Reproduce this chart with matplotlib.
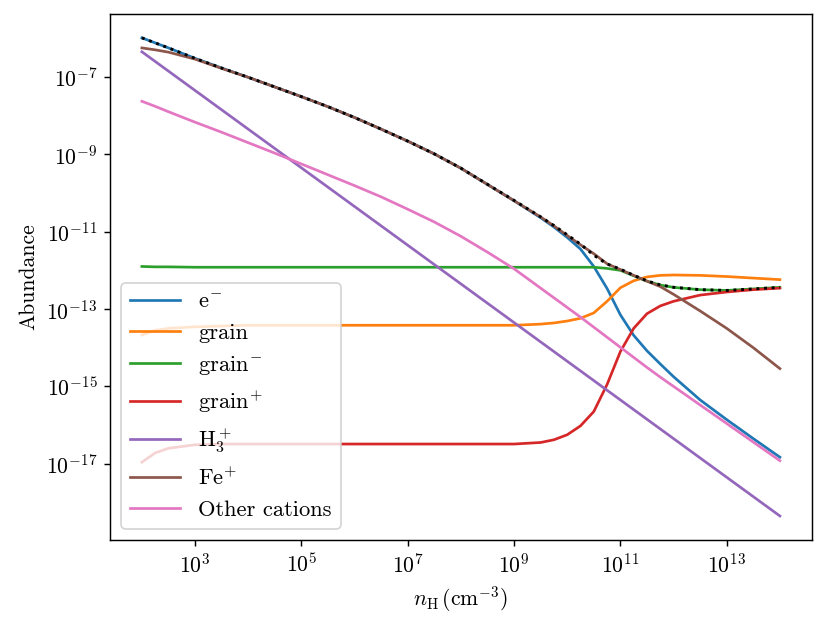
import numpy as np
import matplotlib
matplotlib.use("Agg")
import matplotlib.pyplot as plt

plt.rcParams["font.family"] = "serif"
plt.rcParams["font.serif"] = ["cmr10", "DejaVu Serif"]
plt.rcParams["mathtext.fontset"] = "cm"
plt.rcParams["axes.unicode_minus"] = False
plt.rcParams["axes.formatter.use_mathtext"] = True
plt.rcParams["font.size"] = 12

# log10 of n_H (cm^-3)
log_nH = [2, 2.25, 2.5, 3, 3.5, 4, 4.5, 5, 5.5, 6, 6.5, 7, 7.5, 8, 8.5, 9, 9.5,
          9.75, 10, 10.25, 10.5, 10.75, 11, 11.25, 11.5, 11.75, 12, 12.5, 13,
          13.5, 14]

# log10 abundances
log_e = [-5.99, -6.12, -6.25, -6.52, -6.77, -7.01, -7.26, -7.51, -7.77, -8.05,
         -8.35, -8.66, -8.99, -9.36, -9.78, -10.2, -10.64, -10.88, -11.15,
         -11.45, -11.9, -12.47, -13.15, -13.68, -14.08, -14.42, -14.75, -15.35,
         -15.86, -16.35, -16.83]
log_grain = [-13.67, -13.55, -13.5, -13.46, -13.44, -13.42, -13.42, -13.42,
             -13.42, -13.42, -13.42, -13.42, -13.42, -13.42, -13.42, -13.42,
             -13.39, -13.36, -13.31, -13.24, -13.1, -12.8, -12.45, -12.27,
             -12.17, -12.13, -12.12, -12.13, -12.16, -12.2, -12.24]
log_grain_m = [-11.9, -11.91, -11.91, -11.92, -11.92, -11.92, -11.92, -11.92,
               -11.92, -11.92, -11.92, -11.92, -11.92, -11.92, -11.92, -11.92,
               -11.92, -11.92, -11.92, -11.92, -11.92, -11.95, -12.0, -12.14,
               -12.28, -12.38, -12.44, -12.5, -12.52, -12.48, -12.44]
log_grain_p = [-16.96, -16.72, -16.6, -16.51, -16.49, -16.49, -16.49, -16.49,
               -16.49, -16.49, -16.49, -16.49, -16.49, -16.49, -16.49, -16.49,
               -16.45, -16.38, -16.25, -16.02, -15.65, -14.95, -14.1, -13.5,
               -13.12, -12.92, -12.8, -12.64, -12.56, -12.5, -12.46]
log_h3p = [-6.35, -6.6, -6.85, -7.35, -7.85, -8.35, -8.85, -9.35, -9.85,
           -10.35, -10.85, -11.35, -11.85, -12.35, -12.85, -13.35, -13.85,
           -14.1, -14.35, -14.6, -14.85, -15.1, -15.35, -15.6, -15.85, -16.1,
           -16.35, -16.85, -17.35, -17.85, -18.35]
log_fep = [-6.25, -6.3, -6.36, -6.54, -6.78, -7.01, -7.26, -7.51, -7.77, -8.05,
           -8.35, -8.66, -8.99, -9.36, -9.78, -10.2, -10.62, -10.85, -11.1,
           -11.34, -11.57, -11.83, -11.98, -12.13, -12.28, -12.42, -12.62,
           -13.05, -13.5, -14.0, -14.54]
log_other = [-7.63, -7.76, -7.9, -8.17, -8.43, -8.7, -8.97, -9.25, -9.53,
             -9.81, -10.1, -10.42, -10.75, -11.12, -11.53, -11.96, -12.46,
             -12.71, -12.96, -13.21, -13.47, -13.73, -13.99, -14.25, -14.51,
             -14.76, -15.0, -15.48, -15.96, -16.44, -16.92]

nH = 10 ** np.array(log_nH)
e = 10 ** np.array(log_e)
grain_m = 10 ** np.array(log_grain_m)

fig = plt.figure(figsize=(6.385, 4.785), dpi=130)
ax = fig.add_axes([0.1325, 0.132, 0.8455, 0.8455])

ax.plot(nH, e, label=r"$\mathrm{e}^{-}$")
ax.plot(nH, 10 ** np.array(log_grain), label="grain")
ax.plot(nH, grain_m, label=r"grain$^{-}$")
ax.plot(nH, 10 ** np.array(log_grain_p), label=r"grain$^{+}$")
ax.plot(nH, 10 ** np.array(log_h3p), label=r"H$_3^+$")
ax.plot(nH, 10 ** np.array(log_fep), label=r"Fe$^{+}$")
ax.plot(nH, 10 ** np.array(log_other), label="Other cations")
# total negative charge
ax.plot(nH, e + grain_m, "k:", lw=1.6)

ax.set_xscale("log")
ax.set_yscale("log")
ax.set_xticks([1e3, 1e5, 1e7, 1e9, 1e11, 1e13])
ax.set_yticks([1e-7, 1e-9, 1e-11, 1e-13, 1e-15, 1e-17])
ax.minorticks_off()

ax.set_xlabel(r"$n_{\rm H}\,(\rm cm^{-3})$")
ax.set_ylabel("Abundance")
ax.legend(loc="lower left", fontsize=12.5, handlelength=2.2)

fig.savefig("out.png", dpi=130)
